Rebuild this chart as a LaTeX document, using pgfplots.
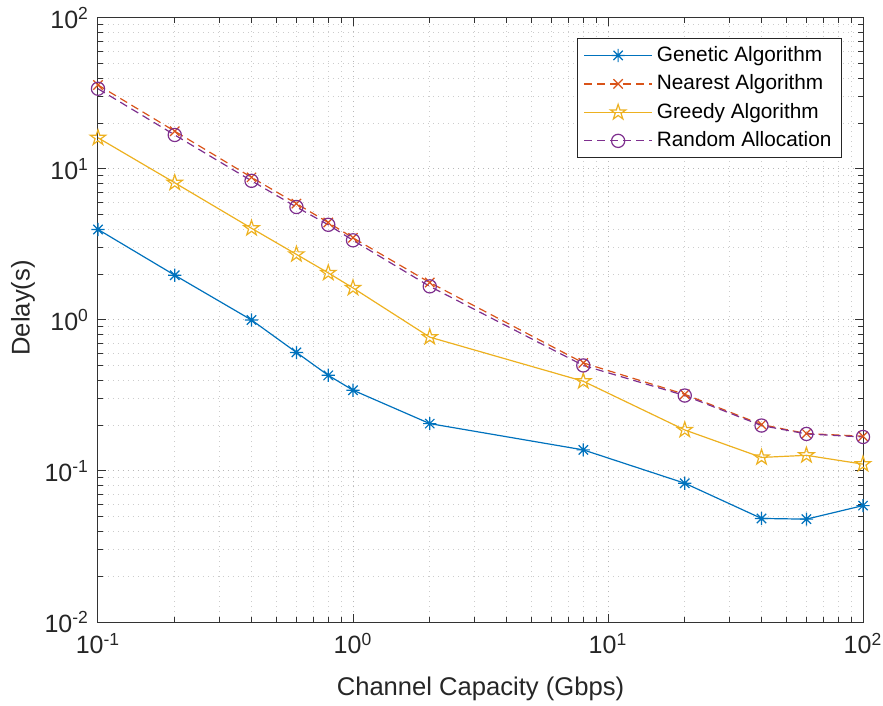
\documentclass[border=0pt]{standalone}
\usepackage{fontspec}
\setmainfont{Liberation Sans}
\usepackage{pgfplots}
\pgfplotsset{compat=1.18}
\usetikzlibrary{plotmarks}
\definecolor{c1}{rgb}{0,0.447,0.741}
\definecolor{c2}{rgb}{0.85,0.325,0.098}
\definecolor{c3}{rgb}{0.929,0.694,0.125}
\definecolor{c4}{rgb}{0.494,0.184,0.556}
\pgfdeclareplotmark{pentagram}{%
  \pgfpathmoveto{\pgfpointpolar{90}{1.15\pgfplotmarksize}}%
  \pgfpathlineto{\pgfpointpolar{126}{0.44\pgfplotmarksize}}%
  \pgfpathlineto{\pgfpointpolar{162}{1.15\pgfplotmarksize}}%
  \pgfpathlineto{\pgfpointpolar{198}{0.44\pgfplotmarksize}}%
  \pgfpathlineto{\pgfpointpolar{234}{1.15\pgfplotmarksize}}%
  \pgfpathlineto{\pgfpointpolar{270}{0.44\pgfplotmarksize}}%
  \pgfpathlineto{\pgfpointpolar{306}{1.15\pgfplotmarksize}}%
  \pgfpathlineto{\pgfpointpolar{342}{0.44\pgfplotmarksize}}%
  \pgfpathlineto{\pgfpointpolar{18}{1.15\pgfplotmarksize}}%
  \pgfpathlineto{\pgfpointpolar{54}{0.44\pgfplotmarksize}}%
  \pgfpathclose\pgfusepathqstroke}
\pgfdeclareplotmark{matast}{%
  \pgfpathmoveto{\pgfqpoint{0pt}{\pgfplotmarksize}}\pgfpathlineto{\pgfqpoint{0pt}{-\pgfplotmarksize}}%
  \pgfpathmoveto{\pgfqpoint{\pgfplotmarksize}{0pt}}\pgfpathlineto{\pgfqpoint{-\pgfplotmarksize}{0pt}}%
  \pgfpathmoveto{\pgfpointpolar{45}{\pgfplotmarksize}}\pgfpathlineto{\pgfpointpolar{225}{\pgfplotmarksize}}%
  \pgfpathmoveto{\pgfpointpolar{135}{\pgfplotmarksize}}\pgfpathlineto{\pgfpointpolar{315}{\pgfplotmarksize}}%
  \pgfusepathqstroke}
\begin{document}
\begin{tikzpicture}
\useasboundingbox (-49pt,-42pt) rectangle (392.5pt,311pt);
\begin{axis}[
  scale only axis, width=382.5pt, height=302pt,
  xmode=log, ymode=log,
  xmin=0.1, xmax=100, ymin=0.01, ymax=100,
  xtick={0.1,1,10,100},
  xticklabels={10\textsuperscript{-1},10\textsuperscript{0},10\textsuperscript{1},10\textsuperscript{2}},
  ytick={0.01,0.1,1,10,100},
  yticklabels={10\textsuperscript{-2},10\textsuperscript{-1},10\textsuperscript{0},10\textsuperscript{1},10\textsuperscript{2}},
  tick label style={font=\fontsize{12.5}{15}\selectfont, text=black!85},
  xticklabel style={yshift=-2pt},
  yticklabel style={xshift=-1pt},
  label style={font=\fontsize{12.8}{15}\selectfont, text=black!85},
  xlabel={Channel Capacity (Gbps)},
  ylabel={Delay(s)},
  xlabel style={at={(axis description cs:0.5,0)}, anchor=base, yshift=-36.5pt},
  ylabel style={at={(axis description cs:-0.098,0.52)}, anchor=center},
  grid=both,
  major grid style={dash pattern=on 0.5pt off 2pt, black!28, line width=0.5pt},
  minor grid style={dash pattern=on 0.5pt off 2pt, black!20, line width=0.5pt},
  axis line style={black!80, line width=0.5pt},
  tick style={black!80, line width=0.5pt},
  major tick length=4pt, minor tick length=2.5pt,
  tick align=inside,
  legend cell align=left,
  legend style={at={(axis description cs:0.9725,0.967)}, anchor=north east,
    draw=black!85, fill=white, line width=0.5pt,
    font=\fontsize{10.4}{12}\selectfont, inner xsep=3pt, inner ysep=2pt,
    row sep=1.2pt},
  legend image code/.code={%
    \draw[mark repeat=2,mark phase=2] plot coordinates {(0cm,0cm) (0.6cm,0cm) (1.2cm,0cm)};},
]
\addplot[c1, line width=0.6pt, mark=matast, mark size=3.3pt, mark options={solid}] coordinates {
(0.1,3.98) (0.2,1.98) (0.4,1.0) (0.6,0.61) (0.8,0.43) (1,0.343) (2,0.206) (8,0.138) (20,0.083) (40,0.0485) (60,0.048) (100,0.059)};
\addlegendentry{Genetic Algorithm}
\addplot[c2, line width=0.6pt, dash pattern=on 4pt off 2.5pt, mark=x, mark size=3.3pt, mark options={solid}] coordinates {
(0.1,36.0) (0.2,17.8) (0.4,8.8) (0.6,5.9) (0.8,4.42) (1,3.5) (2,1.77) (8,0.52) (20,0.322) (40,0.203) (60,0.177) (100,0.17)};
\addlegendentry{Nearest Algorithm}
\addplot[c3, line width=0.6pt, mark=pentagram, mark size=3.5pt, mark options={solid}] coordinates {
(0.1,16.1) (0.2,8.1) (0.4,4.05) (0.6,2.72) (0.8,2.05) (1,1.63) (2,0.77) (8,0.393) (20,0.187) (40,0.123) (60,0.127) (100,0.111)};
\addlegendentry{Greedy Algorithm}
\addplot[c4, line width=0.6pt, dash pattern=on 4pt off 2.5pt, mark=o, mark size=3.3pt, mark options={solid}] coordinates {
(0.1,34.0) (0.2,16.8) (0.4,8.35) (0.6,5.6) (0.8,4.27) (1,3.37) (2,1.67) (8,0.5) (20,0.316) (40,0.2) (60,0.176) (100,0.168)};
\addlegendentry{Random Allocation}
\end{axis}
\end{tikzpicture}
\end{document}
